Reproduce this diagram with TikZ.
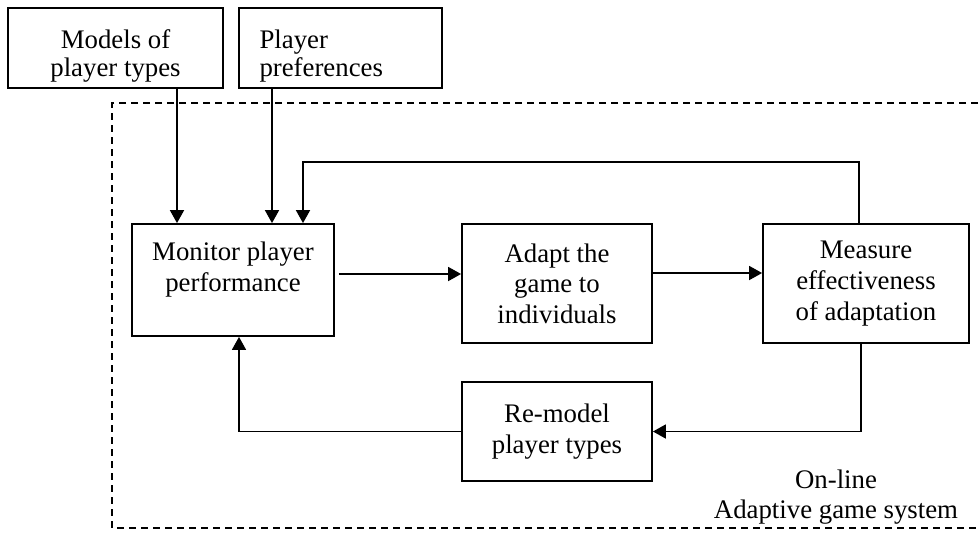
\documentclass[tikz,border=0pt]{standalone}
\usepackage{fontspec}
\setmainfont{Liberation Serif}
\usepackage{tikz}
\usetikzlibrary{
    arrows.meta,
    calc,
    positioning
}
\tikzset{
    block/.style={draw, line width=0.9pt, rectangle, inner sep=0pt, align=center},
    link/.style={line width=0.85pt, -{Triangle[length=6.5pt,width=7pt]}},
    frame/.style={line width=0.8pt, dash pattern=on 3.5pt off 2.5pt}
}

\begin{document}
\begin{tikzpicture}[x=0.5pt, y=-0.5pt, font=\fontsize{13.4}{15.3}\selectfont]
    \useasboundingbox (0,0) rectangle (979,532);
    \draw[frame] (990,103) -- (112,103) -- (112,528) -- (990,528);

    \node[block, minimum width=107.5pt, minimum height=40pt] (models) at (115.5,48) {\parbox[c][31pt][b]{100pt}{\centering\baselineskip=14pt Models of\\player types}};
    \node[block, minimum width=101.5pt, minimum height=40pt] (prefs) at (340.5,48) {\parbox[c][31pt][b]{81pt}{\raggedright\baselineskip=14pt Player\\preferences}};
    \node[block, minimum width=101pt, minimum height=56pt] (monitor) at (233,280) {\parbox[c][38pt][t]{95pt}{\centering Monitor player\\performance}};
    \node[block, minimum width=95pt, minimum height=59.5pt] (adapt) at (557,283.5) {Adapt the\\game to\\individuals};
    \node[block, minimum width=103pt, minimum height=59.5pt] (measure) at (866,283.5) {Measure\\effectiveness\\of adaptation};
    \node[block, minimum width=95pt, minimum height=49.5pt] (remodel) at (557,431.5) {Re-model\\player types};
    \node[align=center] (system) at (836,497) {On-line\\Adaptive game system};

    \coordinate (c1) at (177,0);
    \coordinate (c2) at (272,0);
    \coordinate (c3) at (303,162);
    \coordinate (c4) at (859,0);
    \coordinate (c5) at (861,0);
    \coordinate (c6) at (239,0);
    \coordinate (r1) at (0,274);
    \coordinate (r2) at (0,273);

    \draw[link] (models.south -| c1) -- (monitor.north -| c1);
    \draw[link] (prefs.south -| c2) -- (monitor.north -| c2);
    \draw[link] (measure.north -| c4) |- (c3) -- (monitor.north -| c3);
    \draw[link] ($(monitor.east |- r1)+(4,0)$) -- (adapt.west |- r1);
    \draw[link] (adapt.east |- r2) -- (measure.west |- r2);
    \draw[link] (measure.south -| c5) |- (remodel.east);
    \draw[link] (remodel.west) -| (monitor.south -| c6);
\end{tikzpicture}
\end{document}
